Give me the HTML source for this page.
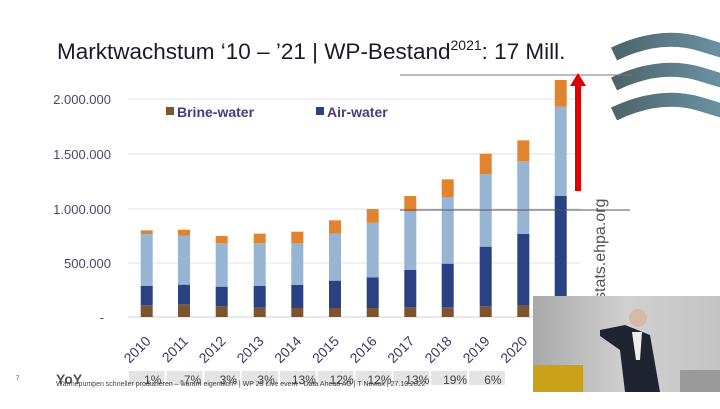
<!DOCTYPE html>
<html><head><meta charset="utf-8"><style>
body{margin:0;width:720px;height:404px;overflow:hidden;background:#fff;font-family:"Liberation Sans",sans-serif}
</style></head><body>
<svg id="s" width="720" height="404" viewBox="0 0 720 404" xmlns="http://www.w3.org/2000/svg" font-family="Liberation Sans, sans-serif">
<defs><linearGradient id="wg" x1="0" x2="1"><stop offset="0" stop-color="#4d6468"/><stop offset="1" stop-color="#6f9aae"/></linearGradient>
<linearGradient id="vg" x1="0" x2="1"><stop offset="0" stop-color="#a9a9a9"/><stop offset="0.5" stop-color="#d0d0d0"/><stop offset="1" stop-color="#c4c4c4"/></linearGradient></defs>
<text x="57" y="59" font-size="22.5" fill="#1a1a2a">Marktwachstum ‘10 – ’21 | WP-Bestand<tspan font-size="14" dy="-9">2021</tspan><tspan dy="9">: 17 Mill.</tspan></text>
<g stroke="url(#wg)" stroke-width="14" fill="none">
<path d="M614,54 Q660,32 700,44 T740,57"/>
<path d="M614,84 Q660,62 700,74 T740,87"/>
<path d="M614,114 Q660,92 700,104 T740,117"/>
</g>
<g stroke="#e3e3e3" stroke-width="1">
<line x1="128" y1="99" x2="580" y2="99"/><line x1="128" y1="154" x2="580" y2="154"/>
<line x1="128" y1="209" x2="580" y2="209"/><line x1="128" y1="263" x2="580" y2="263"/>
<line x1="128" y1="317" x2="580" y2="317" stroke="#d0d0d0"/>
</g>
<g font-size="13" fill="#4a4a6a" text-anchor="end">
<text x="111" y="104">2.000.000</text><text x="111" y="159">1.500.000</text>
<text x="111" y="214">1.000.000</text><text x="111" y="268">500.000</text><text x="104" y="322">-</text>
</g>
<rect x="166" y="107" width="8" height="8" fill="#7b5530"/>
<text x="177" y="117" font-size="14" font-weight="bold" fill="#433f7a">Brine-water</text>
<rect x="316" y="107" width="8" height="8" fill="#2a4283"/>
<text x="327" y="117" font-size="14" font-weight="bold" fill="#433f7a">Air-water</text>
<g id="bars"></g>
<line x1="400" y1="75" x2="632" y2="75" stroke="#777" stroke-width="1"/>
<line x1="400" y1="210" x2="630" y2="210" stroke="#555" stroke-width="1"/>
<rect x="575" y="84" width="6" height="107" fill="#e00000"/>
<path d="M570,86 L578,73 L586,86 Z" fill="#e00000"/>
<text transform="translate(605,300) rotate(-90)" font-size="16" fill="#555">stats.ehpa.org</text>
<g id="yrs" font-size="14" fill="#3a3a6a"></g>
<g id="yoy"></g>
<text x="16" y="380" font-size="6" fill="#444">7</text>
<text x="56" y="384" font-size="14" font-weight="bold" fill="#555">YoY</text>
<text x="56" y="386" font-size="7" fill="#444">Wärmepumpen schneller produzieren – warum eigentlich? | WP 25 Live event - Data Ahead AG | T Nowak | 27.10.2022</text>
<rect x="533" y="296" width="187" height="96" fill="url(#vg)"/>
<rect x="533" y="365" width="50" height="27" fill="#c9a21a"/>
<rect x="680" y="370" width="40" height="22" fill="#9a9a9a"/>
<path d="M600,330 L625,325 L650,335 L660,392 L625,392 L620,350 L600,336 Z" fill="#1f2430"/>
<circle cx="638" cy="318" r="9" fill="#d8b8a8"/>
<path d="M632,332 L642,332 L640,360 L636,360Z" fill="#eee"/>
</svg>
<script>
var xs=[146.7,184,221.7,259.7,297.3,335,372.7,410.3,447.7,485.7,523.3,560.7];
var d=[[736,678,522,511],[733,674,527,509],[739,680,549,528],[741,678,549,521],[744,675,550,515],[744,662,521,481],[744,652,488,447],[742,630,455,408],[742,611,411,358],[739,560,343,281],[737,522,304,241],[742,408,140,60]];
var cols=["#7b5530","#2a4283","#97b5d2","#e18431"];
var ns="http://www.w3.org/2000/svg",g=document.getElementById("bars");
function R(x,y,w,h,f,p){var r=document.createElementNS(ns,"rect");r.setAttribute("x",x);r.setAttribute("y",y);r.setAttribute("width",w);r.setAttribute("height",h);r.setAttribute("fill",f);p.appendChild(r);}
d.forEach(function(v,i){var prev=317;for(var k=0;k<4;k++){var y=60+v[k]/3;R(xs[i]-6,y,12,prev-y,cols[k],g);prev=y;}});
var yg=document.getElementById("yrs");
xs.forEach(function(x,i){var t=document.createElementNS(ns,"text");t.setAttribute("transform","translate("+(x+5)+",342) rotate(-45)");t.setAttribute("text-anchor","end");t.textContent=2010+i;yg.appendChild(t);});
var yy=["1%","-7%","3%","3%","13%","12%","12%","13%","19%","6%"],og=document.getElementById("yoy");
yy.forEach(function(s,i){var x=146.7+37.8*i;R(x-18,371,36,14,"#e4e4e4",og);var t=document.createElementNS(ns,"text");t.setAttribute("x",x+6);t.setAttribute("y",384);t.setAttribute("font-size","12");t.setAttribute("fill","#444");t.setAttribute("text-anchor","middle");t.textContent=s;og.appendChild(t);});
</script>
</body></html>
